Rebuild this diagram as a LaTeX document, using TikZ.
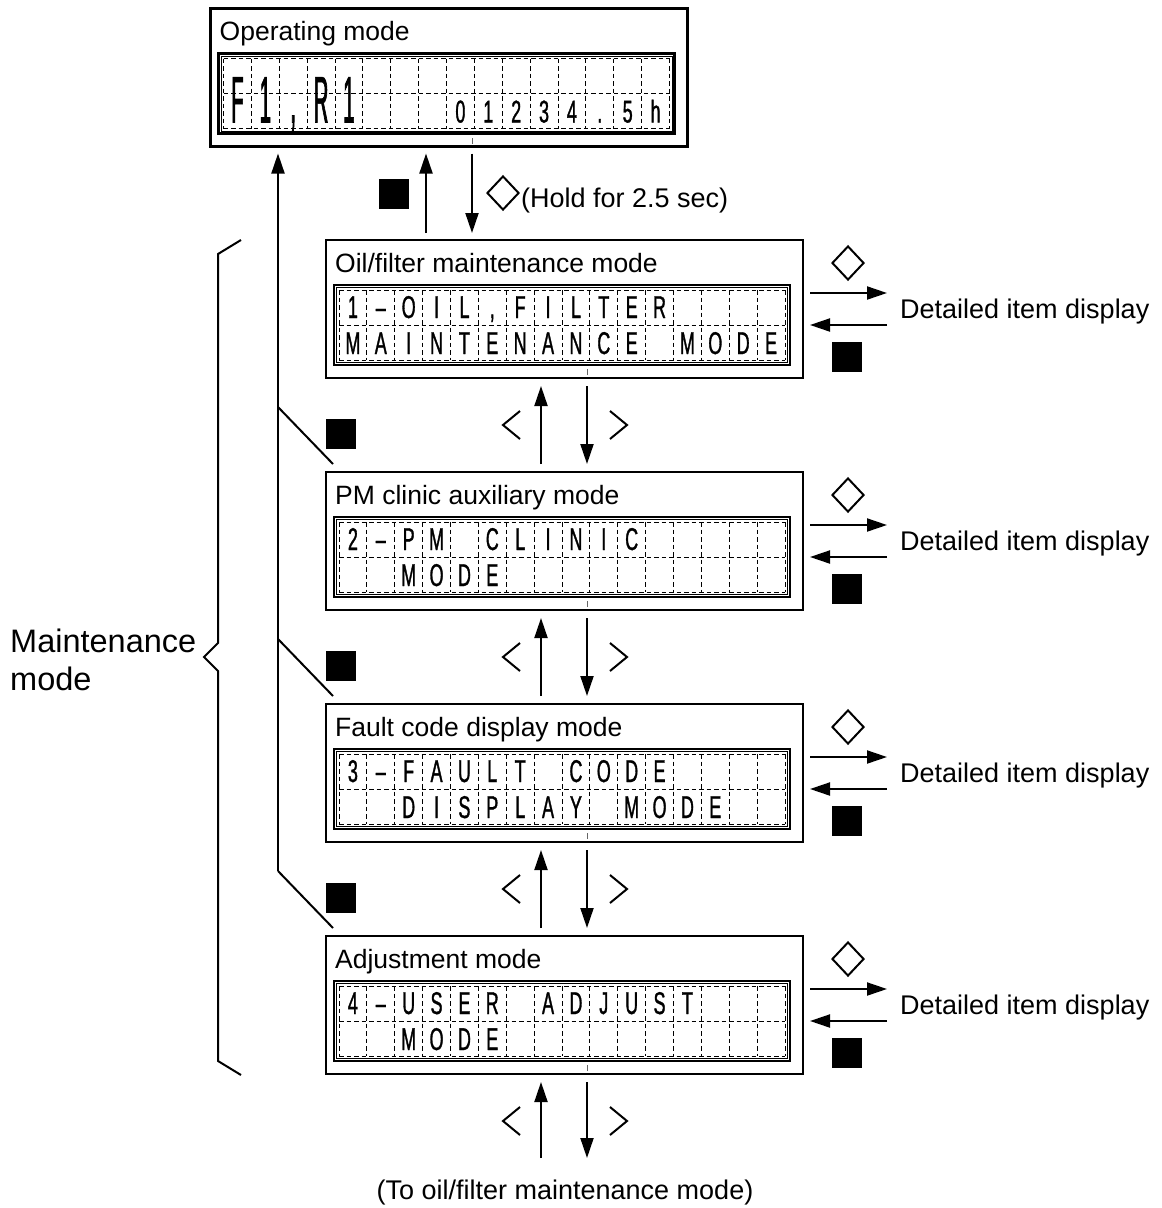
\documentclass[tikz,border=0pt]{standalone}
\usepackage{fontspec}
\setmainfont{Liberation Sans}
\newfontfamily\lcdfont[FakeStretch=0.57,FakeBold=1]{Liberation Sans}
\newfontfamily\lcdbigfont[FakeStretch=0.31,FakeBold=1]{Liberation Sans}
\usetikzlibrary{arrows.meta,calc,shapes.geometric}
\tikzset{
  modebox/.style={draw, line width=2.2pt, minimum width=477pt, minimum height=138pt, inner sep=0pt, outer sep=0pt},
  ttl/.style={anchor=base west, inner sep=0pt, font=\fontsize{26.5}{30}\selectfont},
  lbl/.style={anchor=base west, inner sep=0pt, font=\fontsize{27}{30}\selectfont},
  arr/.style={line width=2pt, -{Triangle[length=20pt,width=13pt]}},
  lcdframe/.style={line width=2.2pt},
  lcdinner/.style={line width=0.8pt},
  dgrid/.style={line width=0.9pt, dash pattern=on 4.5pt off 3pt},
  lcdch/.style={anchor=base, inner sep=0pt, font=\lcdfont\fontsize{31.5}{32}\selectfont},
  lcdbig/.style={anchor=base, inner sep=0pt, font=\lcdbigfont\fontsize{66}{66}\selectfont},
  bsq/.style={fill=black, draw=none, minimum size=30pt, inner sep=0pt, outer sep=0pt},
  hdia/.style={diamond, draw, line width=2pt, minimum width=32pt, minimum height=34pt, inner sep=0pt},
  chev/.style={line width=2pt},
  plainline/.style={line width=2pt},
  tickmark/.style={line width=0.7pt, black!60},
}
\newcommand\lcdpanel[1]{%
  \draw[lcdframe] ($(#1.north west)+(8,45)$) rectangle ($(#1.south east)+(-13,-13)$);
  \draw[lcdinner] ($(#1.north west)+(10.5,47.5)$) rectangle ($(#1.south east)+(-15.5,-15.5)$);
  \foreach \k in {0,...,16} {\draw[dgrid] ($(#1.north west)+({13+\k*27.875},50)$) -- ++(0,70);}
  \foreach \r in {0,35,70} {\draw[dgrid] ($(#1.north west)+(13,{50+\r})$) -- ++(446,0);}
  \draw[tickmark] ($(#1.south)+(23,-3)$) -- ++(0,-6);
}
\newcommand\lcdrow[3]{%
  \foreach \ch [count=\i] in {#3} {\node[lcdch] (#1-r#2-\i) at ($(#1.north west)+({13+(\i-0.5)*27.875},#2)$) {\ch};}
}
\newcommand\detailside[1]{%
  \node[hdia] (#1-dia) at ($(#1.north east)+(45,23)$) {};
  \node[lbl] (#1-det) at ($(#1.north east)+(97,78)$) {Detailed item display};
  \node[bsq] (#1-sq) at ($(#1.north east)+(44,116.5)$) {};
  \coordinate (#1-ra) at ($(#1.north east)+(7,53)$);
  \coordinate (#1-rb) at ($(#1.north east)+(84,53)$);
  \coordinate (#1-la) at ($(#1.north east)+(84,85)$);
  \coordinate (#1-lb) at ($(#1.north east)+(7,85)$);
  \draw[arr] (#1-ra) -- (#1-rb);
  \draw[arr] (#1-la) -- (#1-lb);
}
\newcommand\chevrons[1]{%
  \draw[chev] ($(#1)+(-44.5,-14)$) -- ($(#1)+(-61.5,0)$) -- ($(#1)+(-44.5,14)$);
  \draw[chev] ($(#1)+(45.5,-14)$) -- ($(#1)+(62.5,0)$) -- ($(#1)+(45.5,14)$);
}
\newcommand\updown[2]{%
  \draw[arr] ($(#2.north)+(-23.5,-8)$) -- ($(#1.south)+(-23.5,8)$);
  \draw[arr] ($(#1.south)+(22.5,8)$) -- ($(#2.north)+(22.5,-8)$);
  \coordinate (#1-chev) at ($(#1.south)+(0,47)$);
  \chevrons{#1-chev}
}
\newcommand\backline[1]{%
  \node[bsq] (#1-bsq) at ($(#1.north west)+(15,-38.5)$) {};
  \coordinate (#1-bl) at ($(#1.north west)+(-48,-65)$);
  \draw[plainline] (#1-bl) -- ($(#1.north west)+(7,-8)$);
}
\begin{document}
\begin{tikzpicture}[x=1pt,y=-1pt]
\useasboundingbox (0,0) rectangle (1162,1208);

% boxes
\node[modebox] (op) at (449,77.5) {};
\node[modebox] (m1) at (564.5,309) {};
\node[modebox] (m2) at (564.5,541) {};
\node[modebox] (m3) at (564.5,773) {};
\node[modebox] (m4) at (564.5,1005) {};

% titles
\node[ttl] (op-t) at ($(op.north west)+(9,32)$) {Operating mode};
\node[ttl] (m1-t) at ($(m1.north west)+(9,32)$) {Oil/filter maintenance mode};
\node[ttl] (m2-t) at ($(m2.north west)+(9,32)$) {PM clinic auxiliary mode};
\node[ttl] (m3-t) at ($(m3.north west)+(9,32)$) {Fault code display mode};
\node[ttl] (m4-t) at ($(m4.north west)+(9,32)$) {Adjustment mode};

% LCD panels
\lcdpanel{op}
\foreach \ch [count=\i] in {F,1,{,},R,1} {\node[lcdbig] (op-big-\i) at ($(op.north west)+({13+(\i-0.5)*27.875},114)$) {\ch};}
\lcdrow{op}{114}{{},{},{},{},{},{},{},{},0,1,2,3,4,.,5,h}

\lcdpanel{m1}
\lcdrow{m1}{78}{1,–,O,I,L,{,},F,I,L,T,E,R}
\lcdrow{m1}{114}{M,A,I,N,T,E,N,A,N,C,E,{},M,O,D,E}

\lcdpanel{m2}
\lcdrow{m2}{78}{2,–,P,M,{},C,L,I,N,I,C}
\lcdrow{m2}{114}{{},{},M,O,D,E}

\lcdpanel{m3}
\lcdrow{m3}{78}{3,–,F,A,U,L,T,{},C,O,D,E}
\lcdrow{m3}{114}{{},{},D,I,S,P,L,A,Y,{},M,O,D,E}

\lcdpanel{m4}
\lcdrow{m4}{78}{4,–,U,S,E,R,{},A,D,J,U,S,T}
\lcdrow{m4}{114}{{},{},M,O,D,E}

% top connection
\node[bsq] (top-sq) at (394,194) {};
\node[hdia] (top-dia) at (503,193) {};
\node[lbl] (hold) at (521,207) {(Hold for 2.5 sec)};
\draw[arr] ($(m1.north)+(-138.5,-7)$) -- ($(op.south)+(-23,7)$);
\draw[arr] ($(op.south)+(23,7)$) -- ($(m1.north)+(-92.5,-7)$);

% right side
\detailside{m1}
\detailside{m2}
\detailside{m3}
\detailside{m4}

% between boxes
\updown{m1}{m2}
\updown{m2}{m3}
\updown{m3}{m4}

% bottom
\coordinate (bu) at (541,1158);
\coordinate (bd) at (587,1158);
\draw[arr] (bu) -- ($(m4.south)+(-23.5,8)$);
\draw[arr] ($(m4.south)+(22.5,8)$) -- (bd);
\coordinate (m4-chev) at ($(m4.south)+(0,47)$);
\chevrons{m4-chev}
\node[anchor=base, inner sep=0pt, font=\fontsize{27}{30}\selectfont] (toOil) at (565,1199) {(To oil/filter maintenance mode)};

% back lines on the left
\backline{m2}
\backline{m3}
\backline{m4}
\coordinate (optop) at ($(op.south west)+(67.5,7)$);
\draw[plainline] (m2-bl) -- (m3-bl);
\draw[arr] (m4-bl) -- (optop);

% brace
\draw[plainline] (241,240) -- (218,254) -- (218,643) -- (204,657) -- (218,671) -- (218,1061) -- (241,1075);
\node[anchor=base west, inner sep=0pt, font=\fontsize{32.5}{36}\selectfont] (mm1) at (10,652) {Maintenance};
\node[anchor=base west, inner sep=0pt, font=\fontsize{32.5}{36}\selectfont] (mm2) at (10,690) {mode};
\end{tikzpicture}
\end{document}
